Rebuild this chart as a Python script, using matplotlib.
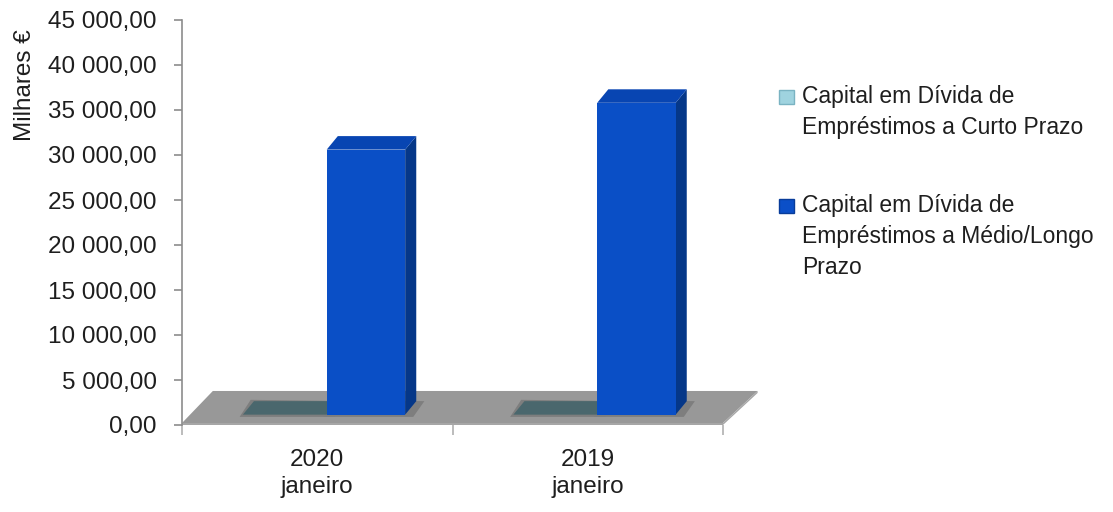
"""Capital em dívida — pseudo-3D bar chart (Excel style)."""

import matplotlib
matplotlib.use("Agg")
import matplotlib.pyplot as plt
from matplotlib.patches import Polygon, Rectangle
from matplotlib.ticker import FuncFormatter

plt.rcParams["font.family"] = ["Liberation Sans", "DejaVu Sans"]

# ---------------------------------------------------------------------------
# Data
# ---------------------------------------------------------------------------
CATEGORIES = ["2020\njaneiro", "2019\njaneiro"]
CURTO_PRAZO = [0.0, 0.0]
MEDIO_LONGO_PRAZO = [29450.0, 34650.0]
SERIES_LABELS = [
    "Capital em Dívida de\nEmpréstimos a Curto Prazo",
    "Capital em Dívida de\nEmpréstimos a Médio/Longo\nPrazo",
]
Y_TICKS = [0, 5000, 10000, 15000, 20000, 25000, 30000, 35000, 40000, 45000]
Y_LABEL = "Milhares €"

# styling
FONT = 17.5
LEG_FONT = 16.5
TXT = "#1e1e1e"
GRAY = "#8c8c8c"
DX, DY = 0.041, 1500          # depth offset of the 3D boxes (x units, data units)
BASE = 1150                   # bars stand in the middle of the floor depth
BAR_W = 0.29
SHORT_W = 0.31
SHORT_OFF, LONG_OFF = -0.275, 0.035

SERIES_STYLE = [
    # front, side, top, legend swatch
    dict(front="#4a676d", side="#3e585d", top="#4a676d", swatch="#9fd3df", edge="#7ab3c2"),
    dict(front="#0a4fc6", side="#053788", top="#0845b2", swatch="#0b4fc8", edge="#083c9a"),
]


def fmt_pt(v, _pos=None):
    return f"{v:,.2f}".replace(",", " ").replace(".", ",")


def draw_box(ax, x0, width, height, style):
    x1 = x0 + width
    y0, y1 = BASE, BASE + height
    # soft shadow on the floor
    ax.add_patch(Polygon([(x0 - 0.012, y0 - 250), (x1 + 0.03, y0 - 250),
                          (x1 + DX + 0.03, y0 + DY), (x0 + DX - 0.012, y0 + DY + 150)],
                         fc="#7e7e7e", ec="none", zorder=2))
    if height > 0:
        ax.add_patch(Polygon([(x1, y0), (x1 + DX, y0 + DY), (x1 + DX, y1 + DY), (x1, y1)],
                             fc=style["side"], ec="none", zorder=3))
        ax.bar(x0, height, width, bottom=BASE, align="edge",
               color=style["front"], edgecolor="none", zorder=4)
    ax.add_patch(Polygon([(x0, y1), (x0 + DX, y1 + DY), (x1 + DX, y1 + DY), (x1, y1)],
                         fc=style["top"], ec="none", zorder=3))


fig = plt.figure(figsize=(11.13, 5.12), dpi=100)
fig.patch.set_facecolor("white")
ax = fig.add_axes([182 / 1113, 87 / 512, 541 / 1113, 405 / 512])
ax.set_xlim(-0.5, 1.5)
ax.set_ylim(0, 45000)

# floor
ax.add_patch(Polygon([(-0.5, 220), (1.5, 220), (1.628, 3780), (-0.386, 3780)],
                     fc="#989898", ec="none", zorder=1, clip_on=False))
ax.add_patch(Polygon([(-0.5, 0), (1.5, 0), (1.5, 220), (-0.5, 220)],
                     fc="#a6a6a6", ec="none", zorder=1, clip_on=False))
ax.add_patch(Polygon([(1.5, 0), (1.628, 3560), (1.628, 3780), (1.5, 220)],
                     fc="#a6a6a6", ec="none", zorder=1, clip_on=False))

for i in range(len(CATEGORIES)):
    draw_box(ax, i + SHORT_OFF, SHORT_W, CURTO_PRAZO[i], SERIES_STYLE[0])
    draw_box(ax, i + LONG_OFF, BAR_W, MEDIO_LONGO_PRAZO[i], SERIES_STYLE[1])

# axes
for s in ["top", "right", "bottom"]:
    ax.spines[s].set_visible(False)
ax.spines["left"].set_color(GRAY)
ax.spines["left"].set_linewidth(1.2)

ax.set_yticks(Y_TICKS)
ax.yaxis.set_major_formatter(FuncFormatter(fmt_pt))
ax.tick_params(axis="y", length=6, width=1.2, color=GRAY, pad=12,
               labelsize=FONT, labelcolor=TXT)

ax.set_xticks([0, 1])
ax.set_xticklabels(CATEGORIES)
ax.set_xticks([-0.5, 0.5, 1.5], minor=True)
ax.tick_params(axis="x", which="major", length=0, pad=17,
               labelsize=FONT, labelcolor=TXT)
ax.tick_params(axis="x", which="minor", length=7, width=1.2, color="#b0b0b0")
for lbl in ax.get_xticklabels():
    lbl.set_linespacing(1.3)

ax.set_ylabel(Y_LABEL, fontsize=FONT, color=TXT)
ax.yaxis.set_label_coords(-0.27, 0.84)

# legend (marker aligned with the first text line, as in the original)
legend_tops = [85, 194]
for style, label, top in zip(SERIES_STYLE, SERIES_LABELS, legend_tops):
    fig.patches.append(Rectangle((779 / 1113, 1 - (top + 19) / 512), 15 / 1113, 14 / 512,
                                 transform=fig.transFigure, fc=style["swatch"],
                                 ec=style["edge"], lw=1.0))
    fig.text(802 / 1113, 1 - top / 512, label, fontsize=LEG_FONT, va="top", ha="left",
             linespacing=1.45, color=TXT)

fig.savefig("out.png", dpi=100)
plt.close(fig)
